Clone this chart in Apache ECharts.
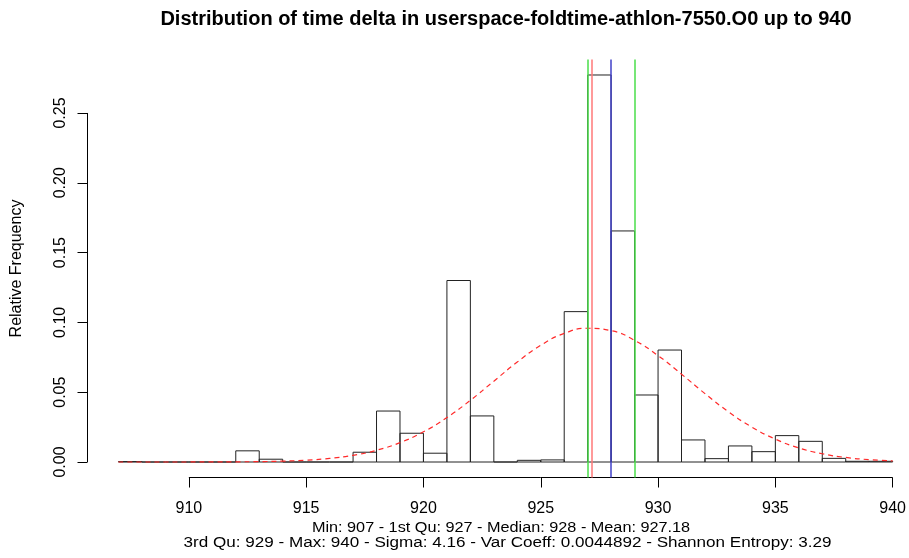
<!DOCTYPE html>
<html>
<head>
<meta charset="utf-8">
<script src="https://cdn.jsdelivr.net/npm/echarts@6/dist/echarts.min.js"></script>
<style>
html,body{margin:0;padding:0;background:#fff;}
#chart{width:909px;height:558px;}
</style>
</head>
<body>
<div id="chart"></div>
<script>
// ---- data ----
const binStarts = [907,908,909,910,911,912,913,914,915,916,917,918,919,920,921,922,923,924,925,926,927,928,929,930,931,932,933,934,935,936,937,938,939];
const binWidth = 1;
const relFreq = [0.0003,0,0,0,0,0.008,0.002,0,0,0,0.007,0.0365,0.0206,0.0063,0.130,0.033,0,0.0012,0.0015,0.1077,0.2772,0.1655,0.048,0.0802,0.0158,0.0024,0.0115,0.0074,0.0189,0.0148,0.0026,0.0005,0.0005];
const curveX = [907,908,909,910,911,912,913,914,915,916,917,918,919,920,921,922,923,924,925,926,927,928,929,930,931,932,933,934,935,936,937,938,939,940];
const curveY = [0.0000007,0.0000023,0.0000068,0.000019,0.00005,0.000123,0.000287,0.00063,0.00132,0.00259,0.0048,0.0084,0.01388,0.02163,0.0318,0.0442,0.0579,0.0716,0.0836,0.0921,0.0958,0.0941,0.0871,0.0762,0.0629,0.0490,0.0360,0.0250,0.0164,0.0101,0.0059,0.00326,0.00169,0.00083];
const xTicks = [910,915,920,925,930,935,940];
const yTicks = [0,0.05,0.10,0.15,0.20,0.25];
const stat1stQu = 927, statMean = 927.18, statMedian = 928, stat3rdQu = 929;
const titleText = 'Distribution of time delta in userspace-foldtime-athlon-7550.O0 up to 940';
const subLine1 = 'Min: 907 - 1st Qu: 927 - Median: 928 - Mean: 927.18';
const subLine2 = '3rd Qu: 929 - Max: 940 - Sigma: 4.16 - Var Coeff: 0.0044892 - Shannon Entropy: 3.29';
const yLabel = 'Relative Frequency';

// axis ranges (R style extension; right side cut by the canvas edge)
const xMin = 905.68, xMax = 940.637, yMin = -0.0111, yMax = 0.2883;

const FONT = '"Liberation Sans", Arial, Helvetica, sans-serif';
const chart = echarts.init(document.getElementById('chart'), null, {renderer:'canvas'});

const histData = binStarts.map((s,i)=>[s, s+binWidth, relFreq[i]]);

chart.setOption({
  animation:false,
  backgroundColor:'#fff',
  textStyle:{fontFamily:FONT, color:'#000'},
  grid:{left:87.5, top:59.5, width:821.5, height:418, containLabel:false},
  xAxis:{
    type:'value', min:xMin, max:xMax,
    axisLine:{show:false, onZero:false},
    splitLine:{show:false},
    axisTick:{show:true, inside:false, customValues:xTicks, length:10, lineStyle:{color:'#000',width:1}},
    axisLabel:{show:true, inside:false, customValues:xTicks, fontSize:16, color:'#000', margin:23, fontFamily:FONT}
  },
  yAxis:{
    type:'value', min:yMin, max:yMax,
    axisLine:{show:false, onZero:false},
    splitLine:{show:false},
    axisTick:{show:true, inside:false, customValues:yTicks, length:10, lineStyle:{color:'#000',width:1}},
    axisLabel:{show:true, inside:false, customValues:yTicks, rotate:90, fontSize:16, color:'#000', margin:19, fontFamily:FONT,
      formatter:v=>v.toFixed(2)},
    name:yLabel, nameLocation:'middle', nameGap:63, nameRotate:90,
    nameTextStyle:{fontSize:16, color:'#000', fontFamily:FONT}
  },
  graphic:[
    {type:'text', x:506, y:19, style:{text:titleText, font:'bold 20px '+FONT, fill:'#000', textAlign:'center', textVerticalAlign:'middle'}},
    {type:'text', x:501, y:528.3, scaleX:1.16, style:{text:subLine1, font:'14px '+FONT, fill:'#000', textAlign:'center', textVerticalAlign:'middle'}},
    {type:'text', x:507.5, y:543.5, scaleX:1.22, style:{text:subLine2, font:'14px '+FONT, fill:'#000', textAlign:'center', textVerticalAlign:'middle'}}
  ],
  series:[
    {
      type:'custom', name:'hist', data:histData, encode:{x:[0,1], y:2}, z:2,
      renderItem:function(params, api){
        const p0 = api.coord([api.value(0), 0]);
        const p1 = api.coord([api.value(1), api.value(2)]);
        return {type:'rect', shape:{x:p0[0], y:p1[1], width:p1[0]-p0[0], height:p0[1]-p1[1]},
          style:{fill:null, stroke:'#222', lineWidth:1}};
      }
    },
    {
      type:'line', name:'normal', data:curveX.map((x,i)=>[x,curveY[i]]), smooth:true, showSymbol:false, z:3,
      lineStyle:{color:'#ff2a2a', width:1.2, type:[5,4]},
      markLine:{symbol:['none','none'], silent:true, label:{show:false},
        data:[
          {xAxis:stat1stQu, lineStyle:{color:'#4ade4a', width:1.5, type:'solid'}},
          {xAxis:stat3rdQu, lineStyle:{color:'#4ade4a', width:1.5, type:'solid'}},
          {xAxis:statMean, lineStyle:{color:'#ff7878', width:1.5, type:'solid'}},
          {xAxis:statMedian, lineStyle:{color:'#4040c8', width:1.5, type:'solid'}}
        ]}
    },
    {
      type:'line', name:'xaxisline', data:[[xTicks[0], yMin],[xTicks[xTicks.length-1], yMin]], clip:false, showSymbol:false, silent:true,
      lineStyle:{color:'#000', width:1}, z:4
    },
    {
      type:'line', name:'yaxisline', data:[[xMin, yTicks[0]],[xMin, yTicks[yTicks.length-1]]], clip:false, showSymbol:false, silent:true,
      lineStyle:{color:'#000', width:1}, z:4
    }
  ]
});
</script>
</body>
</html>
